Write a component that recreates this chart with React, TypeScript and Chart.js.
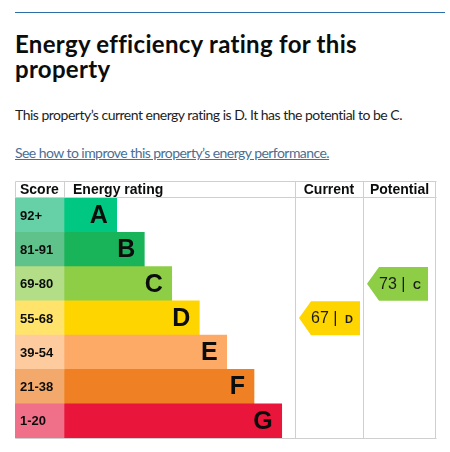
import React, { useEffect, useRef } from "react";
import { Chart, registerables } from "chart.js";

Chart.register(...registerables);

const ratings = ["A", "B", "C", "D", "E", "F", "G"];
const scoreBands = ["92+", "81-91", "69-80", "55-68", "39-54", "21-38", "1-20"];
const barLengths = [52.7, 80.3, 107.7, 135.3, 162.7, 190, 217.7];
const barColors = ["#00c781", "#19b459", "#8dce46", "#ffd500", "#fcaa65", "#ef8023", "#e9153b"];
const scoreColors = ["#66d1a7", "#5ec28a", "#b3dd86", "#ffe36b", "#fdcb9e", "#f4a96c", "#f0708a"];
const columnHeaders = ["Score", "Energy rating", "Current", "Potential"];
const currentScore = 67;
const currentRating = "D";
const potentialScore = 73;
const potentialRating = "C";

const SCORE_END = 49;
const RATING_END = 280;
const CURRENT_END = 348;
const TABLE_END = 421;
const CANVAS_FONT = '"Liberation Sans", Arial, sans-serif';

const tablePlugin = {
  id: "epcTable",
  beforeDatasetsDraw(chart: any) {
    const { ctx, scales, chartArea } = chart;
    const x = scales.x;
    const top = 0.5;
    const headBottom = chartArea.top - 0.5;
    const bottom = chartArea.bottom + 0.5;
    const px = (v: number) => Math.round(x.getPixelForValue(v)) + 0.5;
    ctx.save();
    ctx.strokeStyle = "#cfcfcf";
    ctx.lineWidth = 1;
    ctx.beginPath();
    ctx.moveTo(px(0), top); ctx.lineTo(px(TABLE_END), top);
    ctx.moveTo(px(0), headBottom); ctx.lineTo(px(TABLE_END), headBottom);
    ctx.moveTo(px(0), bottom); ctx.lineTo(px(TABLE_END), bottom);
    ctx.moveTo(px(0), top); ctx.lineTo(px(0), bottom);
    ctx.moveTo(px(SCORE_END), top); ctx.lineTo(px(SCORE_END), headBottom);
    ctx.moveTo(px(RATING_END), top); ctx.lineTo(px(RATING_END), bottom);
    ctx.moveTo(px(CURRENT_END), top); ctx.lineTo(px(CURRENT_END), bottom);
    ctx.moveTo(px(TABLE_END) - 1, top); ctx.lineTo(px(TABLE_END) - 1, bottom);
    ctx.stroke();

    // headers
    ctx.fillStyle = "#0b0c0c";
    ctx.font = `bold 14px ${CANVAS_FONT}`;
    ctx.textBaseline = "middle";
    const hy = (top + headBottom) / 2 + 1;
    ctx.textAlign = "left";
    ctx.fillText(columnHeaders[0], x.getPixelForValue(0) + 5, hy);
    ctx.fillText(columnHeaders[1], x.getPixelForValue(SCORE_END) + 9, hy);
    ctx.textAlign = "center";
    ctx.fillText(columnHeaders[2], (x.getPixelForValue(RATING_END) + x.getPixelForValue(CURRENT_END)) / 2, hy);
    ctx.fillText(columnHeaders[3], (x.getPixelForValue(CURRENT_END) + x.getPixelForValue(TABLE_END)) / 2, hy);
    ctx.restore();
  },
  afterDatasetsDraw(chart: any) {
    const { ctx, scales } = chart;
    const x = scales.x;
    const y = scales.y;
    const barsMeta = chart.getDatasetMeta(1);
    ctx.save();
    ctx.fillStyle = "#0b0c0c";
    ctx.textBaseline = "middle";
    // score labels
    ctx.font = `bold 13px ${CANVAS_FONT}`;
    ctx.textAlign = "left";
    scoreBands.forEach((s, i) => {
      ctx.fillText(s, x.getPixelForValue(0) + 5, y.getPixelForValue(i) + 1);
    });
    // letters
    ctx.font = `bold 25px ${CANVAS_FONT}`;
    ctx.textAlign = "right";
    barsMeta.data.forEach((bar: any, i: number) => {
      ctx.fillText(ratings[i], bar.x - 9, bar.y + 1);
    });

    // arrows
    const rowH = y.getPixelForValue(1) - y.getPixelForValue(0);
    const drawArrow = (colStart: number, score: number, rating: string, width: number) => {
      const idx = ratings.indexOf(rating);
      const cy = y.getPixelForValue(idx);
      const t = cy - rowH / 2 + 0.5;
      const b = cy + rowH / 2;
      const tip = x.getPixelForValue(colStart) + 4;
      const body = tip + 12;
      const right = tip + width;
      ctx.beginPath();
      ctx.moveTo(tip, cy);
      ctx.lineTo(body, t);
      ctx.lineTo(right, t);
      ctx.lineTo(right, b);
      ctx.lineTo(body, b);
      ctx.closePath();
      ctx.fillStyle = barColors[idx];
      ctx.fill();
      ctx.fillStyle = "#1b1b1b";
      ctx.textAlign = "left";
      ctx.font = `16px ${CANVAS_FONT}`;
      const label = `${score} |`;
      ctx.fillText(label, body, cy + 1);
      ctx.font = `bold 11px ${CANVAS_FONT}`;
      ctx.fillText(rating, right - 15, cy + 2);
    };
    drawArrow(RATING_END, currentScore, currentRating, 61);
    drawArrow(CURRENT_END, potentialScore, potentialRating, 61);
    ctx.restore();
  },
};

function EpcChart() {
  const ref = useRef<HTMLCanvasElement | null>(null);
  useEffect(() => {
    if (!ref.current) return;
    const chart = new Chart(ref.current, {
      type: "bar",
      data: {
        labels: ratings,
        datasets: [
          {
            label: "Score",
            data: scoreBands.map(() => [0, SCORE_END]) as any,
            backgroundColor: scoreColors,
            grouped: false,
            barPercentage: 1,
            categoryPercentage: 1,
            borderWidth: 0,
          } as any,
          {
            label: "Energy rating",
            data: barLengths.map((v) => [SCORE_END, SCORE_END + v]) as any,
            backgroundColor: barColors,
            grouped: false,
            barPercentage: 1,
            categoryPercentage: 1,
            borderWidth: 0,
          } as any,
        ],
      },
      options: {
        indexAxis: "y",
        animation: false,
        responsive: false,
        devicePixelRatio: window.devicePixelRatio || 1,
        layout: { padding: { top: 17, bottom: 1, left: 0, right: 1 } },
        scales: {
          x: { type: "linear", min: 0, max: TABLE_END, display: false },
          y: { type: "category", display: false },
        },
        plugins: {
          legend: { display: false },
          tooltip: { enabled: false },
          title: { display: false },
        },
      },
      plugins: [tablePlugin],
    });
    return () => chart.destroy();
  }, []);
  return (
    <canvas
      ref={ref}
      width={422}
      height={258}
      style={{ position: "absolute", left: 15, top: 181, width: 422, height: 258 }}
    />
  );
}

export default function App() {
  const textFont = 'Lato, "Noto Sans", sans-serif';
  return (
    <div style={{ position: "absolute", left: 0, top: 0, width: 450, height: 452, background: "#fff", overflow: "hidden" }}>
      <div style={{ position: "absolute", left: 15, top: 12, width: 430, height: 1, background: "#2b6ea8" }} />
      <div
        style={{
          position: "absolute",
          left: 15,
          top: 31,
          width: 430,
          fontFamily: textFont,
          fontWeight: 700,
          fontSize: 24,
          letterSpacing: "0.3px",
          lineHeight: "25px",
          color: "#0b0c0c",
        }}
      >
        Energy efficiency rating for this
        <br />
        property
      </div>
      <div
        style={{
          position: "absolute",
          left: 15,
          top: 105,
          fontFamily: textFont,
          fontSize: 14,
          letterSpacing: "-0.5px",
          lineHeight: "20px",
          color: "#1e1e1e",
          whiteSpace: "nowrap",
        }}
      >
        This property’s current energy rating is D. It has the potential to be C.
      </div>
      <div
        style={{
          position: "absolute",
          left: 15,
          top: 143,
          fontFamily: textFont,
          fontSize: 14,
          letterSpacing: "-0.55px",
          lineHeight: "20px",
          color: "#4a6f95",
          textDecoration: "underline",
          whiteSpace: "nowrap",
        }}
      >
        See how to improve this property’s energy performance.
      </div>
      <EpcChart />
    </div>
  );
}
